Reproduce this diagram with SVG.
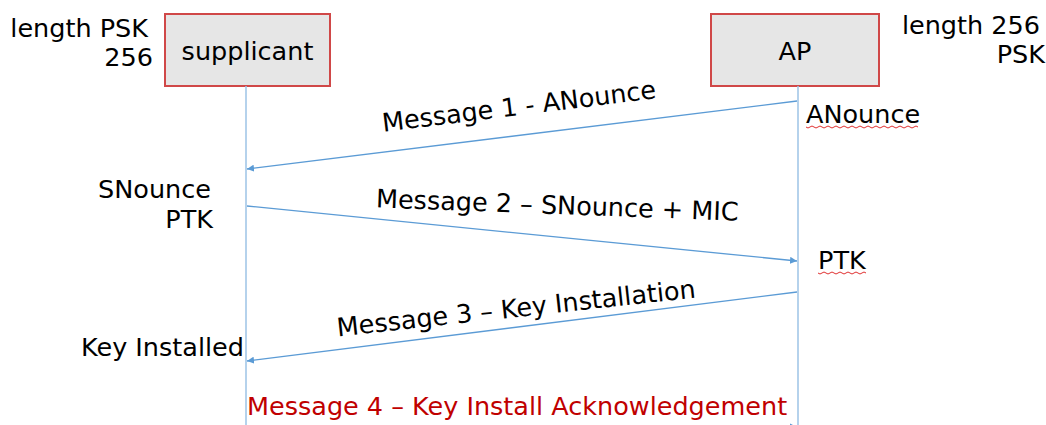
<svg xmlns="http://www.w3.org/2000/svg" width="1046" height="425" viewBox="0 0 1046 425">
<style>
text{font-family:"DejaVu Sans","Liberation Sans",sans-serif;font-size:25.5px;fill:#000}
.box{fill:#e6e6e6;stroke:#d04848;stroke-width:2}
.life{stroke:#9dc3e6;stroke-width:1.5;fill:none}
.msg{stroke:#5b9bd5;stroke-width:1.3;fill:none;marker-end:url(#ah)}
.red{fill:#c00000}
.sq{stroke:#e03030;stroke-width:1;fill:none}
</style>
<defs>
<marker id="ah" viewBox="0 0 10 10" refX="10" refY="5" markerWidth="7" markerHeight="7" markerUnits="userSpaceOnUse" orient="auto">
<path d="M0,0 L10,5 L0,10 z" fill="#5b9bd5"/>
</marker>
</defs>
<rect width="1046" height="425" fill="#fff"/>
<g id="supplicant">
<rect class="box" x="165" y="14" width="165" height="72"/>
<text x="247.5" y="60" text-anchor="middle">supplicant</text>
</g>
<g id="ap">
<rect class="box" x="711" y="14" width="168" height="72"/>
<text x="795" y="60" text-anchor="middle">AP</text>
</g>
<g id="connectors">
<line class="life" x1="246" y1="86" x2="246" y2="425"/>
<line class="life" x1="798" y1="86" x2="798" y2="425"/>
<line class="msg" x1="797" y1="101" x2="247" y2="169"/>
<line class="msg" x1="247" y1="206" x2="797" y2="261"/>
<line class="msg" x1="797" y1="292" x2="247" y2="361"/>
<line class="msg" x1="247" y1="425.6" x2="797" y2="427"/>
</g>
<g id="labels">
<text x="148" y="37" text-anchor="end">length PSK</text>
<text x="153" y="66" text-anchor="end">256</text>
<text x="1040" y="34" text-anchor="end">length 256</text>
<text x="1045" y="63" text-anchor="end">PSK</text>
<text x="806" y="123">ANounce</text>
<path class="sq" d="M806,127 q2,2 4,0 t4,0 t4,0 t4,0 t4,0 t4,0 t4,0 t4,0 t4,0 t4,0 t4,0 t4,0 t4,0 t4,0 t4,0 t4,0 t4,0 t4,0 t4,0 t4,0 t4,0 t4,0 t4,0 t4,0 t4,0 t4,0 t4,0 t4,0"/>
<text x="818" y="269">PTK</text>
<path class="sq" d="M818,273 q2,2 4,0 t4,0 t4,0 t4,0 t4,0 t4,0 t4,0 t4,0 t4,0 t4,0 t4,0 t4,0"/>
<text x="211" y="198" text-anchor="end">SNounce</text>
<text x="213" y="228" text-anchor="end">PTK</text>
<text x="244" y="356" text-anchor="end">Key Installed</text>
<text transform="translate(520,115) rotate(-7)" text-anchor="middle">Message 1 - ANounce</text>
<text transform="translate(557,214) rotate(2.1)" text-anchor="middle">Message 2 – SNounce + MIC</text>
<text transform="translate(517,317) rotate(-6.2)" text-anchor="middle">Message 3 – Key Installation</text>
<text class="red" x="247" y="415">Message 4 – Key Install Acknowledgement</text>
</g>
</svg>
